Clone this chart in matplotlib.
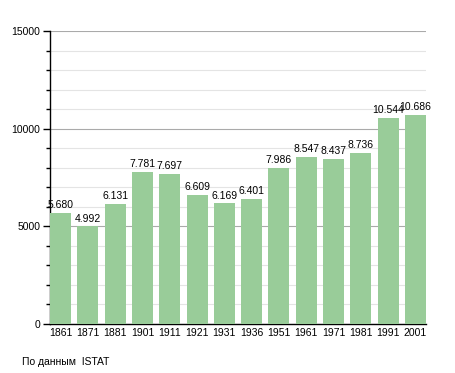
import matplotlib
matplotlib.use("Agg")
import matplotlib.pyplot as plt
from matplotlib.ticker import MultipleLocator

years = ["1861", "1871", "1881", "1901", "1911", "1921", "1931", "1936", "1951", "1961", "1971", "1981", "1991", "2001"]
population = [5680, 4992, 6131, 7781, 7697, 6609, 6169, 6401, 7986, 8547, 8437, 8736, 10544, 10686]

plt.rcParams['font.family'] = ['Liberation Sans', 'DejaVu Sans']

fig = plt.figure(figsize=(4.55, 3.73), dpi=100)
ax = fig.add_axes([50/455, 1-324/373, 376/455, (324-31)/373])

x = list(range(len(years)))
ax.bar(x, population, width=0.77, color="#99cc99", zorder=3, align="center")
for xi, v in zip(x, population):
    lab = f"{v:,}".replace(",", ".")
    ax.text(xi, v + 150, lab, ha="center", va="bottom", fontsize=7.5, zorder=4)

ax.set_xlim(-0.385, len(years) - 1 + 0.385)
ax.set_ylim(0, 15000)
ax.set_xticks(x)
ax.set_xticklabels(years, fontsize=7.5)
ax.tick_params(axis="x", length=0, pad=3)
ax.yaxis.set_major_locator(MultipleLocator(5000))
ax.yaxis.set_minor_locator(MultipleLocator(1000))
ax.tick_params(axis="y", which="major", length=5, width=1, labelsize=7.5, pad=2)
ax.tick_params(axis="y", which="minor", length=3, width=1)
ax.grid(axis="y", which="major", color="#aaaaaa", linewidth=0.8, zorder=0)
ax.grid(axis="y", which="minor", color="#e4e4e4", linewidth=0.8, zorder=0)
for s in ["top", "right"]:
    ax.spines[s].set_visible(False)
ax.spines["left"].set_linewidth(1)
ax.spines["bottom"].set_linewidth(1)

fig.text(22/455, 1-362/373, "По данным  ISTAT", fontsize=7.5, va="center", ha="left")

fig.savefig("out.png", dpi=100)
